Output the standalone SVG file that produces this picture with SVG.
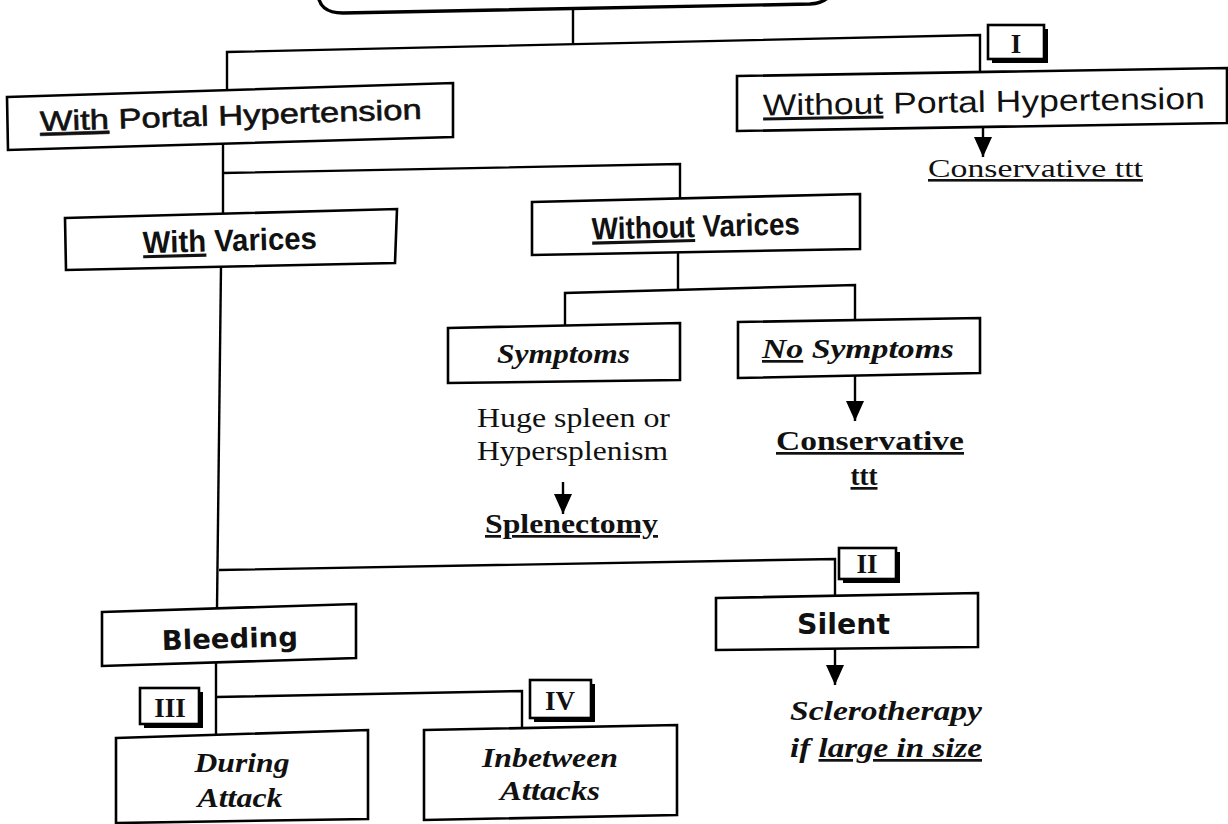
<svg xmlns="http://www.w3.org/2000/svg" width="1228" height="824" viewBox="0 0 1228 824">
<style>
.box{fill:#fff;stroke:#000;stroke-width:2.6;stroke-linejoin:miter}
.ln{fill:none;stroke:#000;stroke-width:2.4}
.sans{font-family:"Liberation Sans",Arial,sans-serif;fill:#111}
.cond{font-family:"Liberation Sans",Arial,sans-serif;font-weight:bold;fill:#111}
.ser{font-family:"Liberation Serif","Times New Roman",serif;fill:#111}
.dv{font-family:"DejaVu Sans",Verdana,sans-serif;font-weight:bold;fill:#111}
.num{font-family:"Liberation Serif","Times New Roman",serif;font-weight:bold;font-size:27px;fill:#111;text-anchor:middle}
.u{text-decoration:underline}
</style>
<defs>
<marker id="ah" viewBox="0 -10 20 20" refX="20" refY="0" markerWidth="20" markerHeight="20" markerUnits="userSpaceOnUse" orient="auto">
<path d="M0,-9 L20,0 L0,9 z" fill="#000"/>
</marker>
</defs>
<rect width="1228" height="824" fill="#fff"/>

<g id="connectors">
<path class="ln" d="M573 10 L573 43"/>
<path class="ln" d="M227 90 L227 52 L980 35 L980 72"/>
<path class="ln" d="M223 144 L223 214"/>
<path class="ln" d="M223 173 L680 164 L680 198"/>
<path class="ln" d="M678 252 L678 289"/>
<path class="ln" d="M565 325 L565 293 L855 285 L855 319"/>
<path class="ln" d="M221 266 L217 608"/>
<path class="ln" d="M219 570 L835 559 L835 596"/>
<path class="ln" d="M216 662 L216 735"/>
<path class="ln" d="M216 697 L522 691 L522 728"/>
<path class="ln" d="M983 127 L983 157" marker-end="url(#ah)"/>
<path class="ln" d="M563 482 L563 514" marker-end="url(#ah)"/>
<path class="ln" d="M855 374 L855 421" marker-end="url(#ah)"/>
<path class="ln" d="M835 648 L835 685" marker-end="url(#ah)"/>
</g>

<g id="root">
<path d="M318 -30 L318 -8 Q318 13 343 13 L810 4 Q833 3 833 -18 L833 -30" fill="#fff" stroke="#000" stroke-width="3.4"/>
</g>

<g id="badge-I">
<rect x="992" y="29" width="56" height="34" fill="#000"/>
<rect x="988" y="25" width="56" height="34" class="box"/>
<text class="num" x="1016" y="53">I</text>
</g>

<g id="with-portal">
<path class="box" d="M7 97 L453 83 L453 137 L8 150 Z"/>
<text class="sans" x="40" y="125" font-size="28" textLength="382" lengthAdjust="spacingAndGlyphs" stroke="#111" stroke-width="0.6" transform="rotate(-1.8 231 124)"><tspan class="u">With</tspan> Portal Hypertension</text>
</g>

<g id="without-portal">
<path class="box" d="M737 76 L1227 68 L1227 123 L737 131 Z"/>
<text class="sans" x="763" y="112" font-size="30" textLength="442" lengthAdjust="spacingAndGlyphs" transform="rotate(-0.9 984 110)"><tspan class="u">Without</tspan> Portal Hypertension</text>
<text class="ser" x="928" y="177" font-size="26" textLength="215" lengthAdjust="spacingAndGlyphs"><tspan class="u">Conservative ttt</tspan></text>
</g>

<g id="with-varices">
<path class="box" d="M65 218 L397 209 L395 263 L66 270 Z"/>
<text class="cond" x="143" y="251" font-size="31" textLength="174" lengthAdjust="spacingAndGlyphs" transform="rotate(-1.5 230 248)"><tspan class="u">With</tspan> Varices</text>
</g>

<g id="without-varices">
<path class="box" d="M532 202 L860 194 L860 249 L532 255 Z"/>
<text class="cond" x="592" y="237" font-size="31" textLength="208" lengthAdjust="spacingAndGlyphs" transform="rotate(-1.4 696 234)"><tspan class="u">Without</tspan> Varices</text>
</g>

<g id="symptoms">
<path class="box" d="M448 328 L680 323 L680 380 L448 383 Z"/>
<text class="ser" x="497" y="363" font-size="27" font-style="italic" font-weight="bold" textLength="133" lengthAdjust="spacingAndGlyphs">Symptoms</text>
<text class="ser" x="477" y="427" font-size="28" textLength="193" lengthAdjust="spacingAndGlyphs">Huge spleen or</text>
<text class="ser" x="477" y="460" font-size="28" textLength="191" lengthAdjust="spacingAndGlyphs">Hypersplenism</text>
<text class="ser" x="485" y="533" font-size="27" font-weight="bold" textLength="173" lengthAdjust="spacingAndGlyphs"><tspan class="u">Splenectomy</tspan></text>
</g>

<g id="no-symptoms">
<path class="box" d="M738 322 L980 318 L980 373 L738 378 Z"/>
<text class="ser" x="762" y="358" font-size="27" font-style="italic" font-weight="bold" textLength="192" lengthAdjust="spacingAndGlyphs"><tspan class="u">No</tspan> Symptoms</text>
<text class="ser" x="776" y="450" font-size="27" font-weight="bold" textLength="188" lengthAdjust="spacingAndGlyphs"><tspan class="u">Conservative</tspan></text>
<text class="ser" x="864" y="485" font-size="27" font-weight="bold" text-anchor="middle"><tspan class="u">ttt</tspan></text>
</g>

<g id="badge-II">
<rect x="843" y="552" width="57" height="31" fill="#000"/>
<rect x="839" y="548" width="57" height="31" class="box"/>
<text class="num" x="867" y="573">II</text>
</g>

<g id="silent">
<path class="box" d="M716 598 L978 593 L978 647 L716 650 Z"/>
<text class="dv" x="797" y="634" font-size="29" textLength="93" lengthAdjust="spacingAndGlyphs">Silent</text>
<text class="ser" x="790" y="720" font-size="27" font-style="italic" font-weight="bold" textLength="192" lengthAdjust="spacingAndGlyphs">Sclerotherapy</text>
<text class="ser" x="790" y="757" font-size="27" font-style="italic" font-weight="bold" textLength="192" lengthAdjust="spacingAndGlyphs">if <tspan class="u">large in size</tspan></text>
</g>

<g id="bleeding">
<path class="box" d="M102 612 L356 604 L356 658 L102 666 Z"/>
<text class="dv" x="162" y="648" font-size="27" textLength="136" lengthAdjust="spacingAndGlyphs" transform="rotate(-1.6 230 645)">Bleeding</text>
</g>

<g id="badge-III">
<rect x="144" y="692" width="59" height="36" fill="#000"/>
<rect x="140" y="688" width="59" height="36" class="box"/>
<text class="num" x="170" y="717">III</text>
</g>

<g id="badge-IV">
<rect x="534" y="684" width="61" height="38" fill="#000"/>
<rect x="530" y="680" width="61" height="38" class="box"/>
<text class="num" x="560" y="710">IV</text>
</g>

<g id="during">
<path class="box" d="M116 738 L368 730 L368 819 L116 823 Z"/>
<text class="ser" x="242" y="772" font-size="28" font-style="italic" font-weight="bold" text-anchor="middle" textLength="95" lengthAdjust="spacingAndGlyphs">During</text>
<text class="ser" x="240" y="807" font-size="28" font-style="italic" font-weight="bold" text-anchor="middle" textLength="85" lengthAdjust="spacingAndGlyphs">Attack</text>
</g>

<g id="inbetween">
<path class="box" d="M424 730 L677 725 L677 815 L424 820 Z"/>
<text class="ser" x="550" y="767" font-size="28" font-style="italic" font-weight="bold" text-anchor="middle" textLength="136" lengthAdjust="spacingAndGlyphs">Inbetween</text>
<text class="ser" x="550" y="800" font-size="28" font-style="italic" font-weight="bold" text-anchor="middle" textLength="100" lengthAdjust="spacingAndGlyphs">Attacks</text>
</g>
</svg>
